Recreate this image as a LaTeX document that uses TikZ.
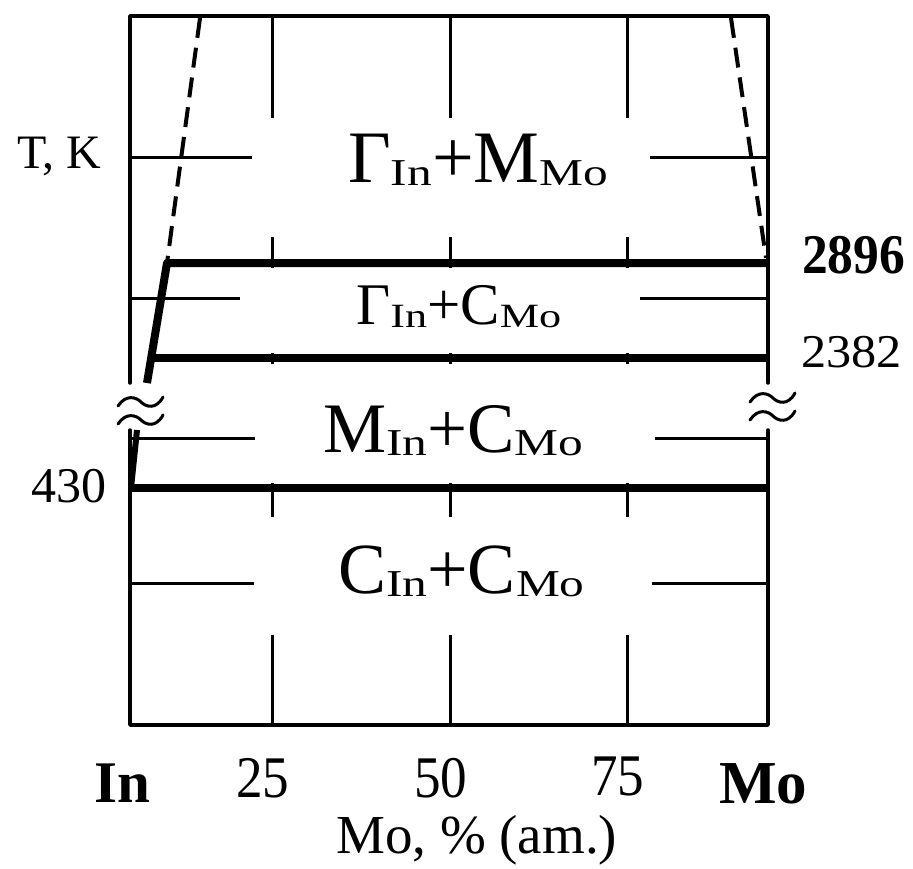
\documentclass[tikz,border=0pt]{standalone}
\usepackage{fontspec}
\setmainfont{Liberation Serif}
\usepackage{graphicx}
\newcommand{\phaselab}[4]{{\fontsize{#1}{#1}\selectfont #3\raisebox{-3pt}{\scalebox{1.3}[1]{\fontsize{#2}{#2}\selectfont In}}+#4\raisebox{-3pt}{\scalebox{1.3}[1]{\fontsize{#2}{#2}\selectfont Mo}}}}
\tikzset{
  frameline/.style={line width=3.5pt, line cap=round, line join=round},
  gridline/.style={line width=3pt},
  phaseline/.style={line width=8pt, line join=round},
  dashline/.style={line width=4pt, dash pattern=on 20pt off 10pt},
  breakmark/.style={line width=3pt, line cap=round},
  lbl/.style={inner sep=0pt, anchor=base west},
}
\begin{document}
\begin{tikzpicture}[x=1pt,y=-1pt]
\useasboundingbox[fill=white] (0,0) rectangle (913,868);
% frame
\draw[frameline] (130,383) -- (130,16) -- (768,16) -- (768,383);
\draw[frameline] (130,430) -- (130,725) -- (768,725) -- (768,430);
% vertical grid segments
\foreach \gx in {272,450,627}{
  \draw[gridline] (\gx,16) -- (\gx,118);
  \draw[gridline] (\gx,237) -- (\gx,268);
  \draw[gridline] (\gx,353) -- (\gx,364);
  \draw[gridline] (\gx,483) -- (\gx,517);
  \draw[gridline] (\gx,635) -- (\gx,725);
}
% horizontal grid segments
\draw[gridline] (130,157) -- (252,157);
\draw[gridline] (130,298) -- (240,298);
\draw[gridline] (130,438) -- (255,438);
\draw[gridline] (130,583) -- (254,583);
\draw[gridline] (650,157) -- (768,157);
\draw[gridline] (640,298) -- (768,298);
\draw[gridline] (655,438) -- (768,438);
\draw[gridline] (652,583) -- (768,583);
% phase boundaries
\draw[phaseline] (768,263) -- (167,263) -- (147,383);
\draw[phaseline] (151,358) -- (768,358);
\draw[phaseline] (130,488) -- (768,488);
\draw[line width=6pt] (137,430) -- (131,488);
% dashed liquidus
\draw[dashline] (200,18) -- (167,263);
\draw[dashline] (731,18) -- (766,258);
% break marks
\foreach \bx/\by in {0/0,0/18,632/-4,632/14}{
  \draw[breakmark,shift={(\bx,\by)}] (118,406) .. controls (126,394) and (136,397) .. (141,402) .. controls (146,407) and (156,410) .. (163,397);
}
% phase labels
\node[lbl] (p1) at (348,182) {\phaselab{74}{38}{Γ}{M}};
\node[lbl] (p2) at (356,324) {\phaselab{59}{34}{Γ}{C}};
\node[lbl] (p3) at (323,452) {\phaselab{71}{38}{M}{C}};
\node[lbl] (p4) at (338,593) {\phaselab{72}{38}{C}{C}};
% axis labels
\node[lbl] (tk) at (17,168) {\fontsize{48}{48}\selectfont T, K};
\node[lbl] (t2896) at (802,273) {\scalebox{0.92}[1]{\fontsize{56}{56}\selectfont\bfseries 2896}};
\node[lbl] (t2382) at (801,367) {\scalebox{1.07}[1]{\fontsize{47}{47}\selectfont 2382}};
\node[lbl] (t430) at (31,502) {\fontsize{50}{50}\selectfont 430};
\node[lbl] (xin) at (94,802) {\fontsize{59}{59}\selectfont\bfseries In};
\node[lbl] (x25) at (236,797) {\scalebox{0.9}[1]{\fontsize{59}{59}\selectfont 25}};
\node[lbl] (x50) at (414,797) {\scalebox{0.9}[1]{\fontsize{59}{59}\selectfont 50}};
\node[lbl] (x75) at (591,795) {\scalebox{0.9}[1]{\fontsize{59}{59}\selectfont 75}};
\node[lbl] (xmo) at (719,803) {\fontsize{61}{61}\selectfont\bfseries Mo};
\node[lbl] (xlab) at (336,853) {\fontsize{55}{55}\selectfont Mo, \% (am.)};
\end{tikzpicture}
\end{document}
